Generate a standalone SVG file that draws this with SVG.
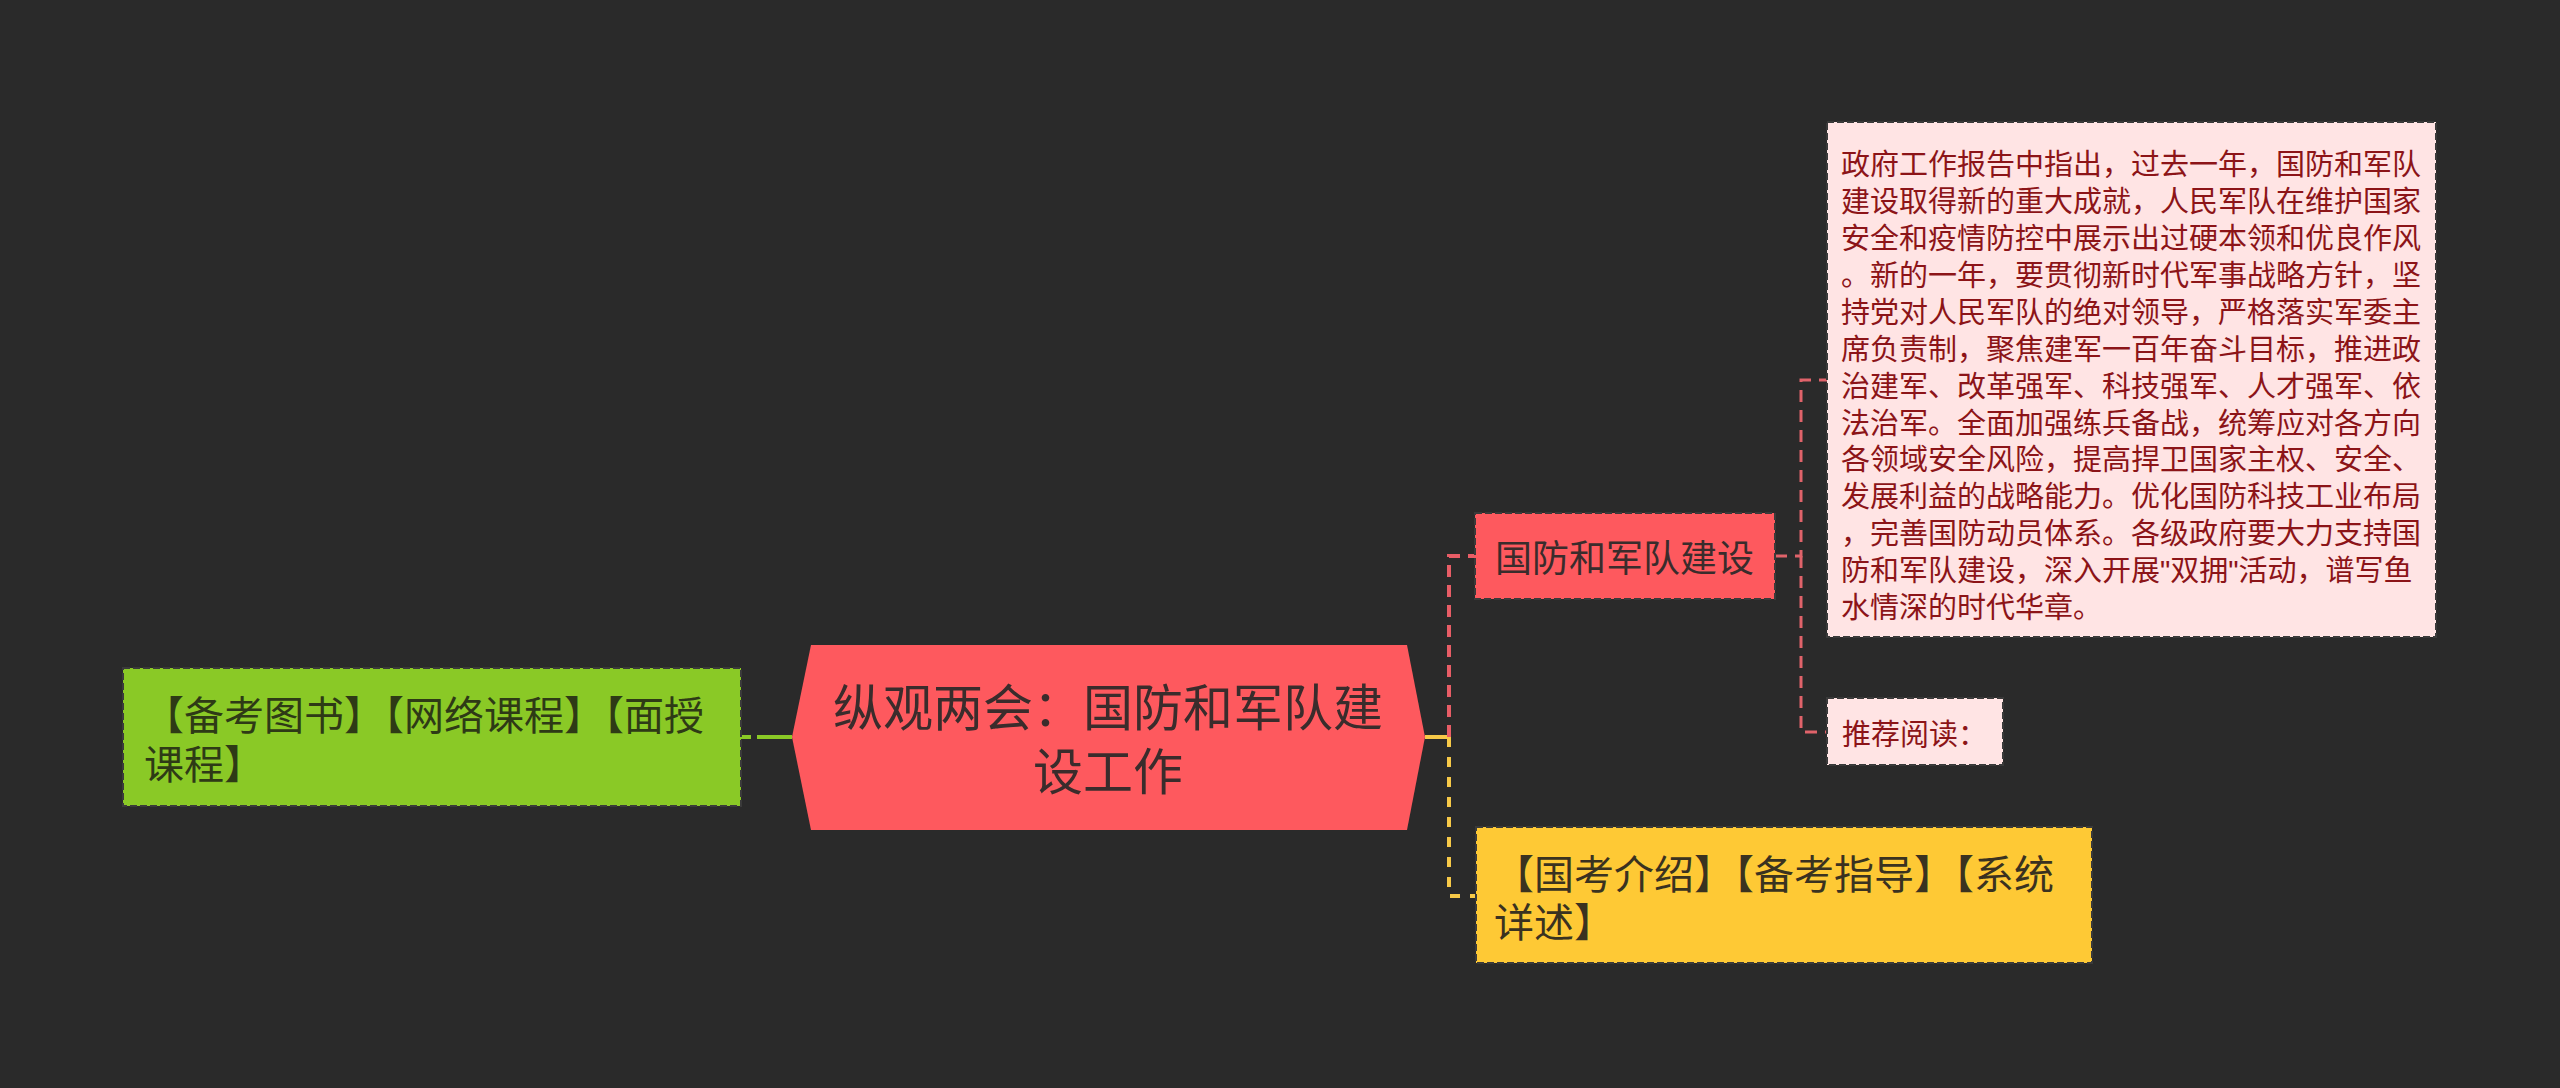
<svg xmlns="http://www.w3.org/2000/svg" width="2560" height="1088" viewBox="0 0 2560 1088">
<style>
text{font-family:"Liberation Sans","Noto Sans CJK SC",sans-serif;dominant-baseline:central}
.box{stroke:#3a3a3a;stroke-width:2;stroke-dasharray:7 3}
.dk{fill:#3a2c2c}
.pk{fill:#8c1418;font-size:29px}
</style>
<rect width="2560" height="1088" fill="#2a2a2a"/>
<g id="connectors" fill="none" stroke-width="4">
<path d="M741,737 H792" stroke="#8ac926" stroke-dasharray="10 6 100"/>
<path d="M1425,737 H1449" stroke="#f7c948"/>
<path d="M1449,737 V896 H1476" stroke="#f7c948" stroke-dasharray="10 10"/>
<path d="M1449,737 V556 H1476" stroke="#e85d66" stroke-dasharray="12 8"/>
<path d="M1775,556 H1801 V380 H1827" stroke="#e0636a" stroke-width="3" stroke-dasharray="12 8"/>
<path d="M1801,556 V732 H1827" stroke="#e0636a" stroke-width="3" stroke-dasharray="12 8"/>
</g>
<g id="root">
<polygon points="792,737 811,645 1407,645 1425,737 1407,830 811,830" fill="#fe595e"/>
<text class="dk" font-size="50" text-anchor="middle"><tspan x="1108" y="709">纵观两会：国防和军队建</tspan><tspan x="1108" y="773">设工作</tspan></text>
</g>
<g id="node-left">
<rect class="box" x="123" y="668" width="618" height="138" fill="#8ac926"/>
<text font-size="40" fill="#2e3a16"><tspan x="144" y="716">【备考图书】【网络课程】【面授</tspan><tspan x="144" y="765">课程】</tspan></text>
</g>
<g id="node-defense">
<rect class="box" x="1475" y="513" width="300" height="86" fill="#fe595e"/>
<text class="dk" x="1495" y="559" font-size="37">国防和军队建设</text>
</g>
<g id="node-detail">
<rect class="box" x="1827" y="122" width="609" height="515" fill="#ffe4e4"/>
<text class="pk"><tspan x="1841" y="165">政府工作报告中指出，过去一年，国防和军队</tspan><tspan x="1841" y="202">建设取得新的重大成就，人民军队在维护国家</tspan><tspan x="1841" y="239">安全和疫情防控中展示出过硬本领和优良作风</tspan><tspan x="1841" y="276">。新的一年，要贯彻新时代军事战略方针，坚</tspan><tspan x="1841" y="313">持党对人民军队的绝对领导，严格落实军委主</tspan><tspan x="1841" y="350">席负责制，聚焦建军一百年奋斗目标，推进政</tspan><tspan x="1841" y="387">治建军、改革强军、科技强军、人才强军、依</tspan><tspan x="1841" y="424">法治军。全面加强练兵备战，统筹应对各方向</tspan><tspan x="1841" y="460">各领域安全风险，提高捍卫国家主权、安全、</tspan><tspan x="1841" y="497">发展利益的战略能力。优化国防科技工业布局</tspan><tspan x="1841" y="534">，完善国防动员体系。各级政府要大力支持国</tspan><tspan x="1841" y="571">防和军队建设，深入开展"双拥"活动，谱写鱼</tspan><tspan x="1841" y="608">水情深的时代华章。</tspan></text>
</g>
<g id="node-reading">
<rect class="box" x="1827" y="698" width="176" height="67" fill="#ffe4e4"/>
<text class="pk" x="1842" y="735">推荐阅读：</text>
</g>
<g id="node-right">
<rect class="box" x="1476" y="827" width="616" height="136" fill="#fec935"/>
<text font-size="40" fill="#3a3220"><tspan x="1494" y="875">【国考介绍】【备考指导】【系统</tspan><tspan x="1494" y="923">详述】</tspan></text>
</g>
</svg>
